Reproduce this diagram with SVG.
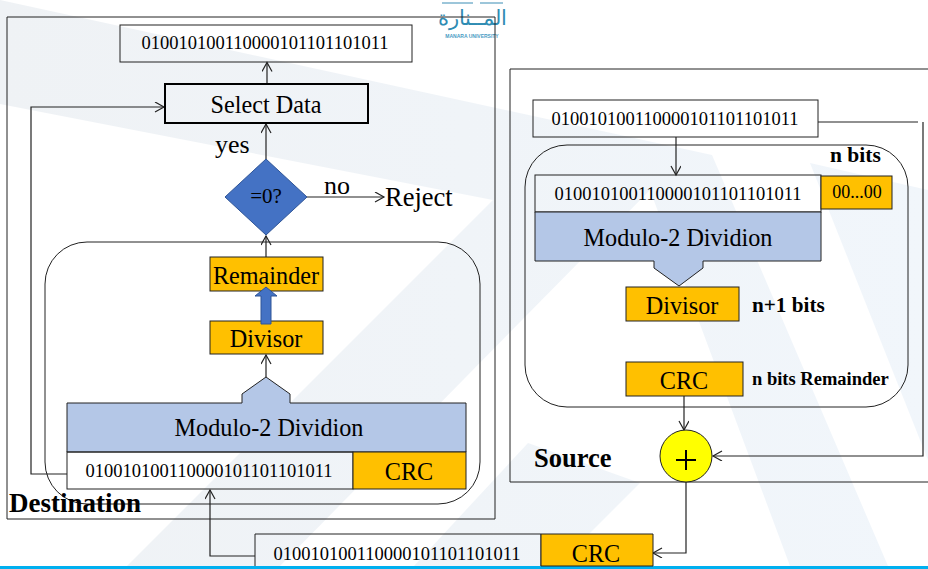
<svg xmlns="http://www.w3.org/2000/svg" width="928" height="569" viewBox="0 0 928 569">
<style>
text{font-family:"Liberation Serif","Times New Roman",serif;fill:#000}
.m{text-anchor:middle}
.d{font-size:18.500px}
.t{font-size:24.200px}
.box{stroke:#222;stroke-width:1}
.o{fill:#ffc000}.w{fill:none}.b{fill:#b4c7e7}
.ln{fill:none;stroke:#222;stroke-width:1.200}
.fr{fill:none;stroke:#222;stroke-width:1}
.wm{fill:url(#wg)}
</style>
<defs>
<linearGradient id="wg" gradientUnits="userSpaceOnUse" x1="0" y1="0" x2="928" y2="0"><stop offset="0" stop-color="#eff2f5"/><stop offset=".5" stop-color="#f0f4f8"/><stop offset="1" stop-color="#f1f6fb"/></linearGradient>
<marker id="a" markerWidth="12" markerHeight="12" refX="10" refY="5" orient="auto" markerUnits="userSpaceOnUse"><path d="M1 0L10 5L1 10" fill="none" stroke="#222" stroke-width="1.200"/></marker>
</defs>
<rect width="928" height="569" fill="#fff"/>
<g id="watermark">
<path class="wm" d="M0 0L712 155L888 566H790L650 190L280 566H127L493 200L0 104Z"/>
<path class="wm" d="M810 163L928 190V460Z"/>
<path class="wm" d="M414 566L528 443L640 483L557 566Z"/>
</g>
<g id="logo">
<path d="M442 3H473M480 3H503" stroke="#3b8db5" stroke-width="1"/>
<text x="472" y="25" class="m" font-size="21" style="font-family:'Noto Sans','Liberation Sans',sans-serif;fill:#2f8cb3" direction="rtl">المــنارة</text>
<text x="472" y="38" class="m" font-size="5" font-weight="700" style="font-family:'Liberation Sans',sans-serif;fill:#4a9cc4">MANARA UNIVERSITY</text>
</g>
<rect x="0" y="566" width="928" height="3" fill="#00b0f0"/>
<g id="frames">
<path class="fr" d="M495 17H7V519H495Z"/>
<path class="fr" d="M928 69H510V482H928"/>
<rect class="fr" x="45" y="242" width="435" height="262" rx="42"/>
<rect class="fr" x="525" y="145" width="383" height="262" rx="42"/>
</g>
<g id="connectors">
<path class="ln" d="M267 84V62.500" marker-end="url(#a)"/>
<path class="ln" d="M266 160V124" marker-end="url(#a)"/>
<path class="ln" d="M307 197H384" marker-end="url(#a)"/>
<path class="ln" d="M266 258V236" marker-end="url(#a)"/>
<path class="ln" d="M266 377V355" marker-end="url(#a)"/>
<path class="ln" d="M67 474H31V107H164" marker-end="url(#a)"/>
<path class="ln" d="M255 556H210V490" marker-end="url(#a)"/>
<path class="ln" d="M818 122H918M923 122V456H713" marker-end="url(#a)"/>
<path class="ln" d="M676 137V175" marker-end="url(#a)"/>
<path class="ln" d="M684 396V430" marker-end="url(#a)"/>
<path class="ln" d="M686 482V553H653" marker-end="url(#a)"/>
</g>
<g id="n-output"><rect class="box w" x="120" y="25" width="292" height="37"/><text class="m d" x="265" y="49">010010100110000101101101011</text></g>
<g id="n-select"><rect x="165" y="84" width="203" height="39" fill="none" stroke="#000" stroke-width="2"/><text class="m t" x="266" y="113">Select Data</text></g>
<g id="l-yes"><text x="215" y="153" font-size="26">yes</text></g>
<g id="n-decision"><path d="M266 159L307 197L266 235L225 197Z" fill="#4472c4" stroke="#2f5597"/><text class="m" x="266" y="203" font-size="21">=0?</text></g>
<g id="l-no"><text x="324" y="194" font-size="26">no</text></g>
<g id="l-reject"><text x="385" y="206" font-size="26.500">Reject</text></g>
<g id="n-remainder"><rect class="box o" x="210" y="257" width="113" height="34"/><text class="m t" x="266" y="284">Remainder</text></g>
<g id="n-divisor-d"><rect class="box o" x="210" y="321" width="113" height="33"/><text class="m t" x="266" y="347">Divisor</text></g>
<g id="up-arrow"><path d="M261 324V296H255L266 287L277 296H271V324Z" fill="#4472c4" stroke="#2f5597"/></g>
<g id="n-div-d"><path class="box b" d="M67 452V403H242V394L266 377L290 394V403H466V452Z"/><text class="m t" x="269" y="436">Modulo-2 Dividion</text></g>
<g id="n-data-d"><rect class="box w" x="67" y="452" width="286" height="37"/><text class="m d" x="209" y="477">010010100110000101101101011</text><rect class="box o" x="353" y="452" width="113" height="37"/><text class="m t" x="409" y="480">CRC</text></g>
<g id="l-destination"><text x="9" y="512" font-size="27" font-weight="700">Destination</text></g>
<g id="n-data-s"><rect class="box w" x="533" y="100" width="285" height="37"/><text class="m d" x="675" y="125">010010100110000101101101011</text></g>
<g id="l-nbits"><text x="830" y="162" font-size="21.500" font-weight="700">n bits</text></g>
<g id="n-data-s2"><rect class="box w" x="535" y="175" width="286" height="37"/><text class="m d" x="678" y="200">010010100110000101101101011</text><rect class="box o" x="821" y="176" width="71" height="33"/><text class="m" x="857" y="198" font-size="18">00...00</text></g>
<g id="n-div-s"><path class="box b" d="M535 212H821V261H703V268L679 286L654 268V261H535Z"/><text class="m t" x="678" y="246">Modulo-2 Dividion</text></g>
<g id="n-divisor-s"><rect class="box o" x="626" y="287" width="113" height="34"/><text class="m t" x="682" y="314">Divisor</text></g>
<g id="l-n1"><text x="752" y="312" font-size="21.200" font-weight="700">n+1 bits</text></g>
<g id="n-crc-s"><rect class="box o" x="626" y="362" width="117" height="34"/><text class="m t" x="684" y="389">CRC</text></g>
<g id="l-rem"><text x="752" y="385" font-size="18.500" font-weight="700">n bits Remainder</text></g>
<g id="n-xor"><circle cx="686" cy="456" r="26" fill="#ff0" stroke="#222"/><path d="M676 460H696M686 450V470" stroke="#000" stroke-width="2"/></g>
<g id="l-source"><text x="534" y="467" font-size="26.500" font-weight="700">Source</text></g>
<g id="n-data-t"><path class="w" d="M255 566V534H541V566" stroke="#222"/><text class="m d" x="397" y="560">010010100110000101101101011</text><path class="o" d="M541 566V534H653V566Z" stroke="#222"/><text class="m t" x="596" y="562">CRC</text></g>
</svg>
